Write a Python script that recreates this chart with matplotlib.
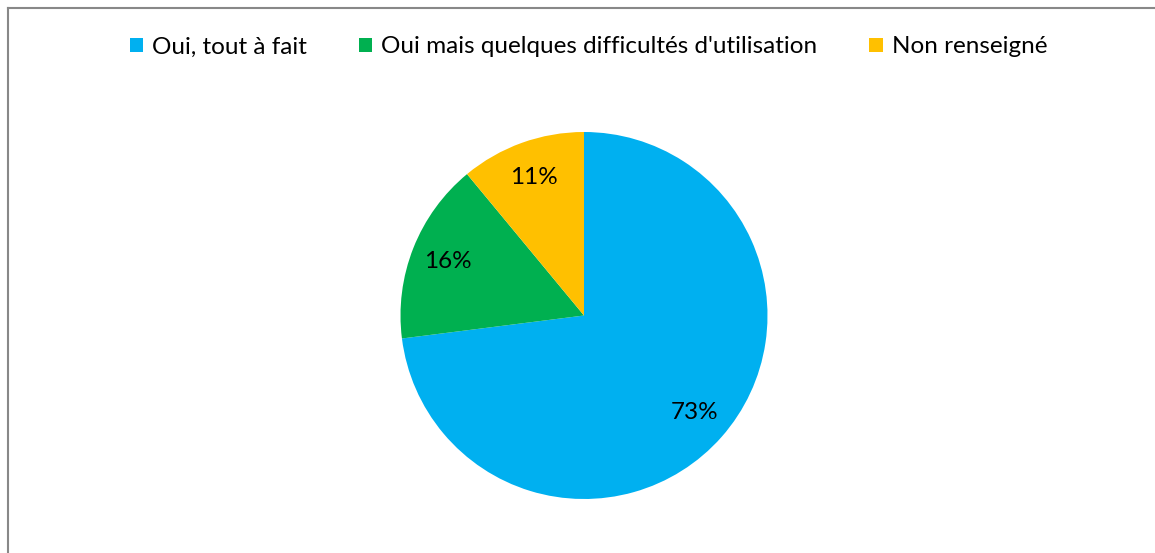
import matplotlib.pyplot as plt
from matplotlib.patches import Patch
from matplotlib.lines import Line2D

labels = ["Oui, tout à fait", "Oui mais quelques difficultés d'utilisation", "Non renseigné"]
valeurs = [73, 16, 11]
couleurs = ["#00B0F0", "#00B050", "#FFC000"]

plt.rcParams['font.family'] = ['Lato', 'DejaVu Sans']

fig = plt.figure(figsize=(11.55, 5.53), dpi=100)
W, H = 1155, 553

# pie centre (584, 315) rayon 183.5 px
cx, cy, r = 584, 553 - 315.5, 183.5
ax = fig.add_axes([(cx - r) / W, (cy - r) / H, 2 * r / W, 2 * r / H])
ax.pie(valeurs, colors=couleurs, startangle=90, counterclock=False,
       autopct='%1.0f%%', pctdistance=0.8, radius=1,
       textprops={'fontsize': 17.5, 'color': 'black'})
ax.set_xlim(-1, 1)
ax.set_ylim(-1, 1)
ax.axis('off')

handles = [Patch(facecolor=c, edgecolor='none') for c in couleurs]
fig.legend(handles, labels, loc='center', bbox_to_anchor=(588.5 / W, 1 - 47 / H),
           ncol=3, frameon=False, fontsize=17.5, handlelength=0.55, handleheight=0.55,
           handletextpad=0.37, columnspacing=2.14)

# cadre gris (bords gauche et haut)
fig.add_artist(Line2D([8 / W, 8 / W], [0, 1 - 8 / H], transform=fig.transFigure,
                      color='#888888', lw=1.5))
fig.add_artist(Line2D([8 / W, 1], [1 - 8 / H, 1 - 8 / H], transform=fig.transFigure,
                      color='#888888', lw=1.5))

fig.savefig('out.png', dpi=100)
